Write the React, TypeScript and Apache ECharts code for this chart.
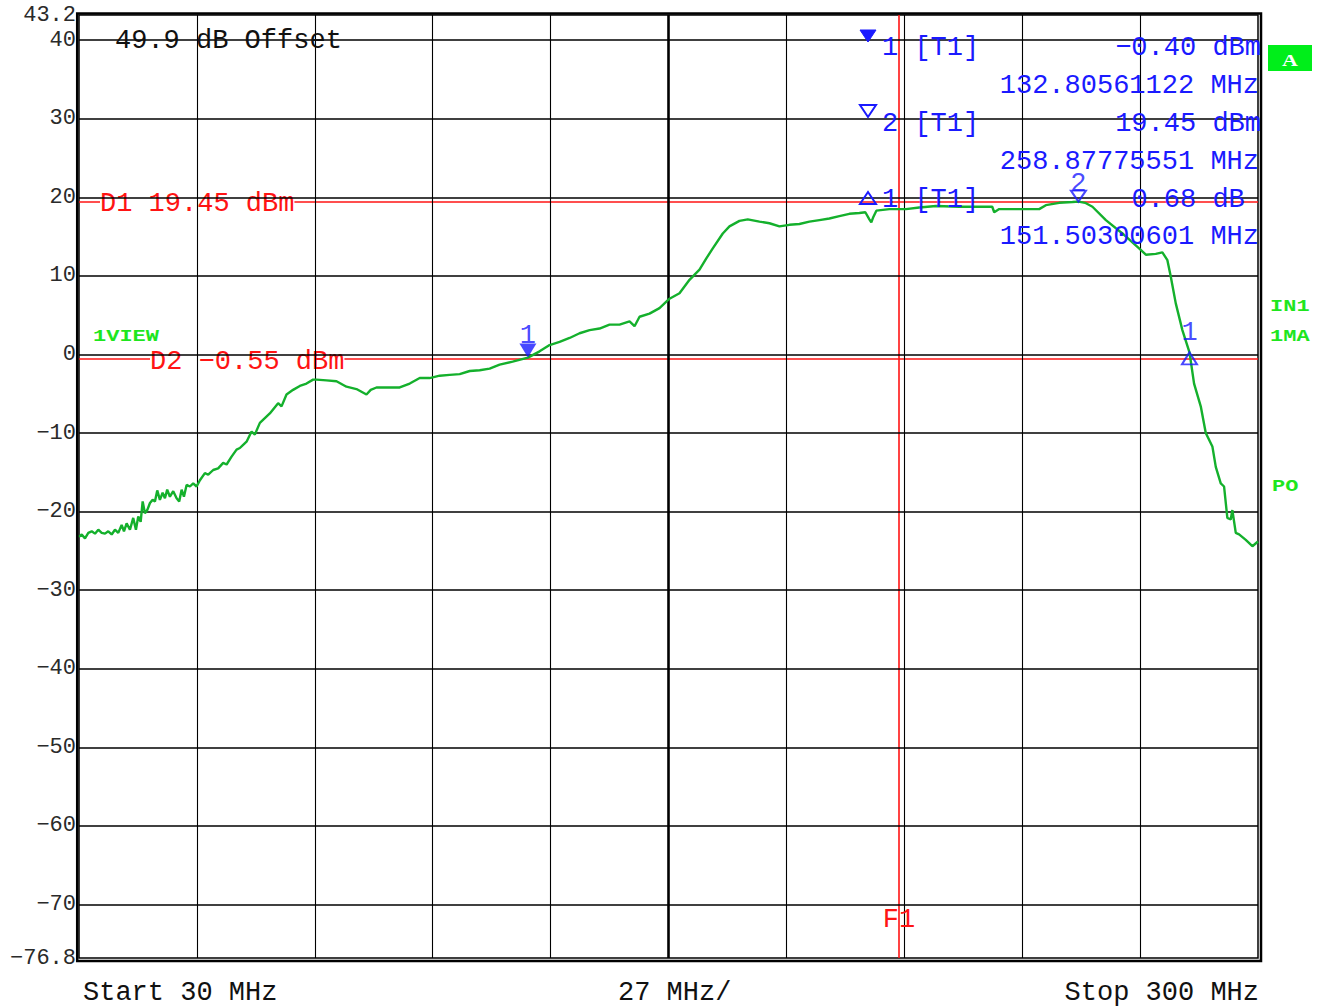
import React, { useEffect, useRef } from "react";
import * as echarts from "echarts";

// Spectrum trace: frequency (MHz) and level (dBm), 30 to 300 MHz sweep
const freqMHz = [
  30.0, 30.62, 31.37, 32.13, 32.91, 33.66, 34.42, 35.19, 35.95, 36.7, 37.48, 38.24, 38.99, 39.77, 40.3,
  40.91, 41.67, 42.42, 43.04, 43.57, 44.12, 44.58, 45.1, 45.63, 46.25, 46.86, 47.39, 47.92, 48.53, 49.15,
  49.68, 50.2, 50.82, 51.58, 52.35, 52.95, 53.5, 54.03, 54.64, 55.4, 56.15, 56.93, 57.69, 58.83, 59.59,
  60.73, 61.87, 63.02, 63.8, 64.94, 66.08, 66.84, 67.59, 68.37, 69.52, 70.27, 71.42, 72.56, 73.7, 75.6,
  76.38, 77.52, 79.03, 80.57, 82.1, 83.61, 84.39, 86.68, 88.97, 91.25, 93.54, 95.83, 96.81, 98.12, 100.41,
  103.45, 105.74, 108.03, 110.31, 112.6, 114.89, 117.18, 119.47, 121.76, 124.04, 126.33, 129.31, 132.81,
  135.48, 137.77, 140.06, 142.35, 144.64, 146.93, 149.21, 151.5, 153.79, 156.08, 157.22, 158.37, 160.65,
  162.94, 165.23, 167.52, 169.81, 172.1, 173.63, 175.14, 177.43, 178.96, 181.25, 183.15, 185.83, 188.12,
  190.41, 192.69, 194.98, 197.27, 199.56, 201.84, 204.13, 206.42, 208.71, 210.08, 211.0, 211.45, 211.91,
  212.6, 215.57, 219.39, 222.43, 226.26, 231.59, 239.14, 239.59, 240.74, 249.89, 251.42, 254.47, 257.51,
  258.88, 260.4, 262.09, 265.16, 268.95, 272.77, 274.31, 276.59, 278.1, 279.25, 280.03, 281.17, 282.68,
  284.31, 285.36, 286.89, 288.04, 289.55, 290.33, 291.47, 292.23, 292.98, 293.76, 294.13, 294.91, 295.67,
  297.2, 298.71, 300.0,
];
const levelDbm = [
  -23.2, -22.9, -23.4, -22.7, -22.5, -22.8, -22.3, -22.7, -22.8, -22.5, -22.9, -22.3, -22.7, -21.7, -22.5,
  -21.5, -22.3, -20.8, -22.3, -20.6, -21.3, -18.7, -20.2, -19.8, -18.9, -18.5, -18.7, -17.3, -18.5, -17.6,
  -18.3, -17.2, -18.1, -17.4, -18.3, -18.7, -17.2, -18.1, -16.6, -16.8, -16.4, -16.8, -16.0, -15.1, -15.3,
  -14.7, -14.5, -13.8, -14.0, -13.0, -12.1, -11.9, -11.5, -11.1, -9.8, -10.2, -8.7, -8.1, -7.5, -6.2,
  -6.6, -5.1, -4.5, -4.0, -3.7, -3.2, -3.2, -3.3, -3.4, -4.1, -4.4, -5.1, -4.5, -4.2, -4.2,
  -4.2, -3.7, -3.0, -3.0, -2.7, -2.6, -2.5, -2.1, -2.0, -1.8, -1.3, -0.9, -0.4,
  0.4, 1.2, 1.6, 2.1, 2.7, 3.1, 3.3, 3.8, 3.8, 4.2, 3.6, 4.8, 5.2,
  5.9, 7.1, 7.8, 9.5, 10.8, 12.2, 13.5, 15.4, 16.3, 17.0, 17.2, 16.9, 16.7,
  16.3, 16.5, 16.6, 16.9, 17.1, 17.3, 17.6, 17.9, 18.0, 18.1, 17.2, 16.8, 17.5,
  18.3, 18.5, 18.5, 18.7, 18.9, 18.8, 18.8, 18.1, 18.5, 18.5, 19.0, 19.3, 19.4,
  19.45, 19.3, 18.8, 17.1, 15.4, 13.5, 12.7, 12.8, 13.0, 12.0, 9.9, 6.5, 3.1,
  0.28, -3.7, -6.6, -10.0, -11.7, -14.3, -16.4, -16.8, -20.8, -21.0, -19.8, -22.7, -22.9,
  -23.6, -24.4, -23.8,
];

// Axis setup
const startMHz = 30;
const stopMHz = 300;
const spanPerDiv = 27;
const refLevel = 43.2;
const bottomLevel = -76.8;
const yTickValues = [43.2, 40, 30, 20, 10, 0, -10, -20, -30, -40, -50, -60, -70, -76.8];
const yGridDbm = [40, 30, 20, 10, 0, -10, -20, -30, -40, -50, -60, -70];
const xGridMHz = [57, 84, 111, 138, 165, 192, 219, 246, 273];
const centerMHz = 165;

// Display lines and frequency line
const d1Level = 19.45;
const d2Level = -0.55;
const f1Freq = 217.8;

// Markers
const marker1 = { freq: 132.80561122, level: -0.4 };
const marker2 = { freq: 258.87775551, level: 19.45 };
const delta1 = { dFreq: 151.50300601, dLevel: 0.68 };
const refOffsetDb = 49.9;

const TRACE = "#14b02c";
const BLUE = "#1a1aff";
const RED = "#ff1414";
const LIME = "#1ee61e";
const MONO = '"Liberation Mono", "DejaVu Sans Mono", monospace';

const minus = (s: string) => s.replace("-", "\u2212");
const fmtTick = (v: number) => minus(String(v));
const fmtLevel = (v: number) => minus(v.toFixed(2));

const DOWN_TRI = "path://M0,0L20,0L10,16Z";
const UP_TRI = "path://M10,0L20,16L0,16Z";

export default function App() {
  const ref = useRef<HTMLDivElement>(null);

  useEffect(() => {
    document.body.style.margin = "0";
    const chart = echarts.init(ref.current!, undefined, { renderer: "svg" });

    const deltaFreq = marker1.freq + delta1.dFreq;
    const deltaLevel = marker1.level + delta1.dLevel;

    const hLine = { color: "#000", width: 1.6, type: "solid" as const };
    const vLine = { color: "#000", width: 1.1, type: "solid" as const };
    const cLine = { color: "#000", width: 2.6, type: "solid" as const };

    const markerLabel = (text: string, distance: number) => ({
      show: true,
      position: "top" as const,
      formatter: text,
      color: BLUE,
      fontFamily: MONO,
      fontSize: 27,
      lineHeight: 14,
      distance,
    });

    chart.setOption({
      animation: false,
      backgroundColor: "#ffffff",
      grid: {
        left: 79,
        right: 62,
        top: 15,
        bottom: 49,
        show: true,
        borderColor: "#000",
        borderWidth: 1.5,
        backgroundColor: "transparent",
      },
      xAxis: { type: "value", min: startMHz, max: stopMHz, show: false },
      yAxis: {
        type: "value",
        min: bottomLevel,
        max: refLevel,
        axisLine: { show: false },
        axisTick: { show: false },
        splitLine: { show: false },
        axisLabel: {
          customValues: yTickValues,
          formatter: fmtTick,
          color: "#2a2a2a",
          fontFamily: MONO,
          fontSize: 22,
          margin: 3,
        },
      },
      series: [
        {
          name: "lines",
          type: "line",
          data: [],
          silent: true,
          markLine: {
            z: 3,
            silent: true,
            symbol: "none",
            label: { show: false },
            lineStyle: { color: RED, width: 1.6, type: "solid" },
            data: [{ yAxis: d1Level }, { yAxis: d2Level }, { xAxis: f1Freq }],
          },
        },
        {
          name: "graticule",
          type: "line",
          data: [],
          silent: true,
          markLine: {
            z: 5,
            silent: true,
            symbol: "none",
            label: { show: false },
            data: [
              ...yGridDbm.map((v) => ({ yAxis: v, lineStyle: hLine })),
              ...xGridMHz.map((v) => ({ xAxis: v, lineStyle: v === centerMHz ? cLine : vLine })),
            ],
          },
        },
        {
          name: "trace",
          type: "line",
          z: 6,
          silent: true,
          showSymbol: false,
          data: freqMHz.map((f, i) => [f, levelDbm[i]]),
          lineStyle: { color: TRACE, width: 2.4 },
        },
        {
          name: "markers",
          type: "scatter",
          z: 7,
          silent: true,
          data: [
            {
              value: [marker1.freq, marker1.level],
              symbol: DOWN_TRI,
              symbolSize: [17, 14],
              symbolOffset: [0, -7],
              itemStyle: { color: BLUE },
              label: markerLabel("1", 1),
            },
            {
              value: [marker2.freq, marker2.level],
              symbol: DOWN_TRI,
              symbolSize: [15, 11],
              symbolOffset: [0, -5.5],
              itemStyle: { color: "rgba(0,0,0,0)", borderColor: BLUE, borderWidth: 2 },
              label: markerLabel("2", -1),
            },
            {
              value: [deltaFreq, deltaLevel],
              symbol: UP_TRI,
              symbolSize: [15, 12],
              symbolOffset: [0, 6],
              itemStyle: { color: "rgba(0,0,0,0)", borderColor: BLUE, borderWidth: 2 },
              label: markerLabel("1", 11),
            },
          ],
        },
      ],
    });

    const px = (f: number, v: number) =>
      chart.convertToPixel({ gridIndex: 0 }, [f, v]) as unknown as number[];

    const text = (
      x: number,
      y: number,
      str: string,
      fill: string,
      opts: Record<string, any> = {}
    ) => ({
      type: "text",
      x,
      y,
      z: opts.z ?? 10,
      scaleY: opts.scaleY ?? 1,
      style: {
        text: str,
        fill,
        fontFamily: opts.fontFamily ?? MONO,
        fontSize: opts.fontSize ?? 27,
        fontWeight: opts.fontWeight ?? "normal",
        lineHeight: opts.lineHeight ?? 22,
        align: opts.align ?? "left",
        textAlign: opts.align ?? "left",
        verticalAlign: "middle",
        textVerticalAlign: "middle",
        backgroundColor: opts.bg,
      },
    });

    const tri = (cx: number, cy: number, down: boolean, filled: boolean) => ({
      type: "polygon",
      z: 10,
      shape: {
        points: down
          ? [[cx - 8, cy - 6], [cx + 8, cy - 6], [cx, cy + 6]]
          : [[cx, cy - 6], [cx + 8, cy + 6], [cx - 8, cy + 6]],
      },
      style: filled
        ? { fill: BLUE, stroke: BLUE, lineWidth: 1 }
        : { fill: "none", stroke: BLUE, lineWidth: 2 },
    });

    const d1y = px(startMHz, d1Level)[1];
    const d2y = px(startMHz, d2Level)[1];
    const f1x = px(f1Freq, 0)[0];
    const rightX = 1261;
    const cell = 16.2;
    const small = { fontWeight: "bold", fontSize: 22, scaleY: 0.72, lineHeight: 18 };

    chart.setOption({
      graphic: [
        {
          type: "rect",
          z: 8,
          shape: { x: 77.2, y: 13.5, width: 1183.8, height: 947.5 },
          style: { fill: "none", stroke: "#000", lineWidth: 2.5 },
        },
        text(115, 41, `${refOffsetDb.toFixed(1)} dB Offset`, "#111"),
        text(100, d1y + 2.5, `D1 ${fmtLevel(d1Level)} dBm`, RED, { z: 4, bg: "#fff" }),
        text(150, d2y + 3, `D2 ${fmtLevel(d2Level)} dBm`, RED, { z: 4, bg: "#fff" }),
        text(f1x, 920, "F1", RED, { align: "center" }),

        // marker readout
        tri(868, 36, true, true),
        text(882, 48, "1 [T1]", BLUE),
        text(rightX, 48, `${fmtLevel(marker1.level)} dBm`, BLUE, { align: "right" }),
        text(rightX - 2, 86, `${marker1.freq.toFixed(8)} MHz`, BLUE, { align: "right" }),
        tri(868, 111, true, false),
        text(882, 124, "2 [T1]", BLUE),
        text(rightX, 124, `${fmtLevel(marker2.level)} dBm`, BLUE, { align: "right" }),
        text(rightX - 2, 162, `${marker2.freq.toFixed(8)} MHz`, BLUE, { align: "right" }),
        tri(868, 198, false, false),
        text(882, 200, "1 [T1]", BLUE),
        text(rightX - cell, 200, `${fmtLevel(delta1.dLevel)} dB`, BLUE, { align: "right" }),
        text(rightX - 2, 237, `${delta1.dFreq.toFixed(8)} MHz`, BLUE, { align: "right" }),

        // side annotations
        {
          type: "rect",
          z: 10,
          shape: { x: 1268, y: 45, width: 44, height: 26 },
          style: { fill: "#00ee1a" },
        },
        text(1290, 60, "A", "#fff", {
          align: "center",
          fontFamily: '"Liberation Serif", serif',
          fontWeight: "bold",
          fontSize: 22,
          scaleY: 0.8,
          lineHeight: 18,
        }),
        text(1270, 307, "IN1", LIME, small),
        text(1270, 337, "1MA", LIME, small),
        text(1272, 487, "PO", LIME, small),
        text(93, 337, "1VIEW", LIME, small),

        // sweep annotations
        text(83, 993, `Start ${startMHz} MHz`, "#111"),
        text(618, 993, `${spanPerDiv} MHz/`, "#111"),
        text(1259, 993, `Stop ${stopMHz} MHz`, "#111", { align: "right" }),
      ],
    });

    return () => chart.dispose();
  }, []);

  return (
    <div
      ref={ref}
      style={{ position: "absolute", left: 0, top: 0, width: 1320, height: 1007 }}
    />
  );
}
